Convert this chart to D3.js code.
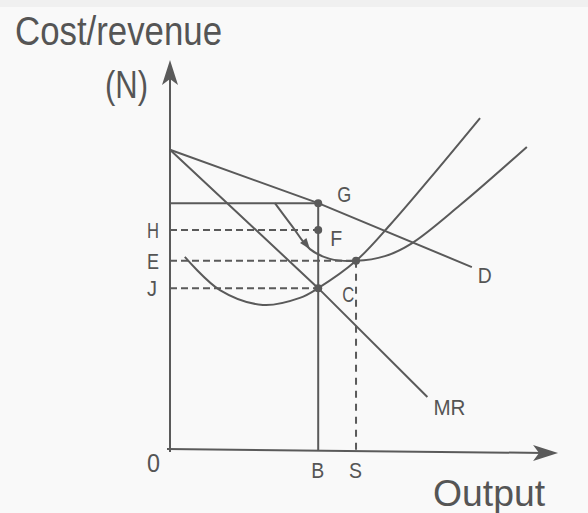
<!DOCTYPE html>
<html>
<head>
<meta charset="utf-8">
<script src="https://cdn.jsdelivr.net/npm/d3@7"></script>
<style>
body { margin: 0; background: #f9f9f9; }
svg { display: block; }
text { font-family: "Liberation Sans", Arial, sans-serif; fill: #555; }
</style>
</head>
<body>
<div id="chart"></div>
<script>
// curves, in (output, cost) units
const demand = [[0, 77], [38, 63.3], [77.4, 46.9]]
const marginalRevenue = [[0, 77], [38, 41.5], [66, 13.6]]
const marginalCost = [[3.8, 49.5], [12.8, 41], [23.8, 37.2], [33.3, 39], [38, 41.5], [47.7, 48.5], [56.4, 57.7], [66.7, 69.7], [79.5, 85.1]]
const averageCost = [[26.9, 63.3], [31.3, 57.4], [35.9, 51.5], [41, 49], [47.7, 48.5], [55.1, 49.7], [62, 53], [74.4, 62.8], [91.5, 77.7]]

// price levels read on the cost axis
const priceLevels = [["H", 56.4], ["E", 48.5], ["J", 41.5]]
const priceG = 63.3
// output levels read on the output axis
const outputLevels = [["B", 38], ["S", 47.7]]

// marked points
const points = [["G", 38, 63.3], ["F", 38, 56.4], ["C", 38, 41.5], ["", 47.7, 48.5]]

const width = 588
const height = 513
const ink = "#5a5a5a"

const svg = d3.select("#chart").append("svg")
    .attr("width", width)
    .attr("height", height)

svg.append("rect").attr("width", width).attr("height", 7).attr("fill", "#f0f0f0")

const x = d3.scaleLinear().domain([0, 100]).range([170, 560])
const y = d3.scaleLinear().domain([0, 100]).range([450, 60])

const line = d3.line().x(d => x(d[0])).y(d => y(d[1]))
const curve = d3.line().x(d => x(d[0])).y(d => y(d[1])).curve(d3.curveCatmullRom)

// axes
svg.append("line")
    .attr("x1", x(0)).attr("y1", y(0) + 2)
    .attr("x2", x(0)).attr("y2", y(96))
    .attr("stroke", ink).attr("stroke-width", 2)
svg.append("line")
    .attr("x1", x(0) - 3).attr("y1", y(0) - 1)
    .attr("x2", x(96)).attr("y2", y(0) + 3)
    .attr("stroke", ink).attr("stroke-width", 2)

const arrowHead = "M0,0 L-25,-8 L-19,0 L-25,8 Z"
svg.append("path").attr("d", arrowHead).attr("fill", ink)
    .attr("transform", `translate(${x(0)},${y(100)}) rotate(-90)`)
svg.append("path").attr("d", arrowHead).attr("fill", ink)
    .attr("transform", `translate(${x(99.5)},${y(0) + 3})`)

// level lines
svg.append("line")
    .attr("x1", x(0)).attr("y1", y(priceG))
    .attr("x2", x(outputLevels[0][1])).attr("y2", y(priceG))
    .attr("stroke", ink).attr("stroke-width", 2)

svg.selectAll(".hlevel")
    .data(priceLevels)
    .join("line")
    .attr("class", "hlevel")
    .attr("x1", x(0))
    .attr("y1", d => y(d[1]))
    .attr("x2", d => d[0] === "E" ? x(outputLevels[1][1]) + 4 : x(outputLevels[0][1]))
    .attr("y2", d => y(d[1]))
    .attr("stroke", ink).attr("stroke-width", 2)
    .attr("stroke-dasharray", "7,4")

svg.append("line")
    .attr("x1", x(outputLevels[0][1])).attr("y1", y(priceG))
    .attr("x2", x(outputLevels[0][1])).attr("y2", y(0) + 1)
    .attr("stroke", ink).attr("stroke-width", 2)
svg.append("line")
    .attr("x1", x(outputLevels[1][1])).attr("y1", y(48.5))
    .attr("x2", x(outputLevels[1][1])).attr("y2", y(0) + 1)
    .attr("stroke", ink).attr("stroke-width", 2)
    .attr("stroke-dasharray", "7,6")

// curves
const curves = [[demand, line], [marginalRevenue, line], [marginalCost, curve], [averageCost, curve]]
svg.selectAll(".curve")
    .data(curves)
    .join("path")
    .attr("class", "curve")
    .attr("d", d => d[1](d[0]))
    .attr("fill", "none")
    .attr("stroke", ink)
    .attr("stroke-width", 2)

// small arrow on the average cost curve
const a0 = averageCost[1], a1 = averageCost[2]
const ang = Math.atan2(y(a1[1]) - y(a0[1]), x(a1[0]) - x(a0[0])) * 180 / Math.PI
svg.append("path").attr("d", "M0,0 L-11,-4 L-11,4 Z").attr("fill", ink)
    .attr("transform", `translate(${x(a1[0])},${y(a1[1])}) rotate(${ang})`)

svg.selectAll(".pt")
    .data(points)
    .join("circle")
    .attr("class", "pt")
    .attr("cx", d => x(d[1]))
    .attr("cy", d => y(d[2]))
    .attr("r", 4)
    .attr("fill", ink)

// labels, narrowed to the width of the scanned lettering
const lab = (t, px, py, size, w) => svg.append("text")
    .attr("x", px).attr("y", py)
    .attr("font-size", size)
    .attr("textLength", w)
    .attr("lengthAdjust", "spacingAndGlyphs")
    .text(t)

lab("Cost/revenue", 15, 45, 40, 207)
lab("(N)", 105, 98, 38, 43)
lab("Output", 433, 506, 37, 112)
lab("0", 147, 472, 26, 13)

priceLevels.forEach(d => lab(d[0], 147, y(d[1]) + 8, 22, d[0] === "J" ? 10 : 12))
outputLevels.forEach(d => lab(d[0], x(d[1]) - 7, 478, 22, 13))

lab(points[0][0], x(points[0][1]) + 19, y(points[0][2]) - 1, 22, 14)
lab(points[1][0], x(points[1][1]) + 12, y(points[1][2]) + 16, 22, 12)
lab(points[2][0], x(points[2][1]) + 24, y(points[2][2]) + 14, 22, 12)

const dEnd = demand[demand.length - 1]
lab("D", x(dEnd[0]) + 6, y(dEnd[1]) + 16, 22, 14)
const mEnd = marginalRevenue[marginalRevenue.length - 1]
lab("MR", x(mEnd[0]) + 6, y(mEnd[1]) + 18, 22, 32)
</script>
</body>
</html>
